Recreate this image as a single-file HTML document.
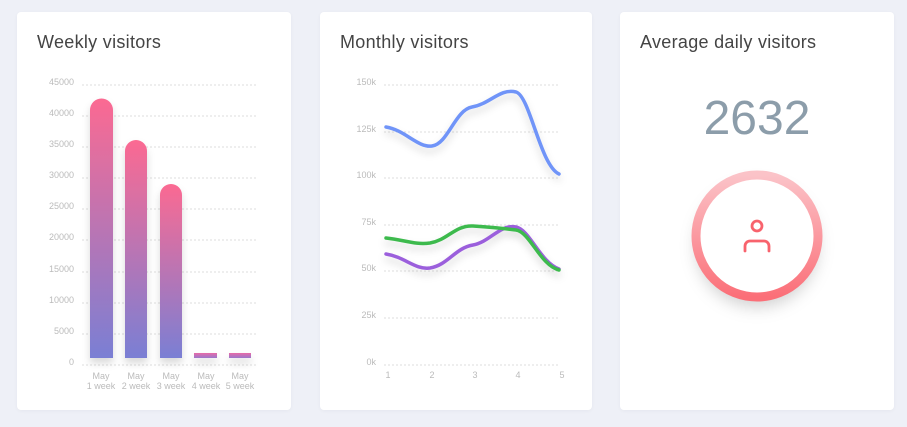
<!DOCTYPE html>
<html><head><meta charset="utf-8"><style>
body{margin:0;width:907px;height:427px;background:#eef0f7;font-family:"Liberation Sans",sans-serif;position:relative;overflow:hidden}
.card{position:absolute;top:12px;height:398px;background:#fff;border-radius:4px;box-shadow:0 1px 4px rgba(0,0,0,0.04)}
.t{position:absolute;top:20px;left:20px;font-size:18px;color:#444;letter-spacing:0.3px}
svg{position:absolute;left:0;top:0}
</style></head><body>
<div class="card" style="left:17px;width:274px"><div class="t">Weekly visitors</div></div>
<div class="card" style="left:320px;width:272px"><div class="t">Monthly visitors</div></div>
<div class="card" style="left:620px;width:274px"><div class="t">Average daily visitors</div></div>
<svg width="907" height="427" font-family="Liberation Sans, sans-serif">
<defs>
<linearGradient id="bg" x1="0" y1="0" x2="0" y2="1"><stop offset="0" stop-color="#fb6a92"/><stop offset="1" stop-color="#7a7fd4"/></linearGradient>
<linearGradient id="bg4" x1="0" y1="0" x2="0" y2="1"><stop offset="0" stop-color="#e86aa8"/><stop offset="1" stop-color="#9a78cc"/></linearGradient>
<linearGradient id="rg" x1="0" y1="0" x2="0" y2="1"><stop offset="0" stop-color="#fbc3c8"/><stop offset="1" stop-color="#fb6f78"/></linearGradient>
<filter id="sh" x="-30%" y="-30%" width="160%" height="160%"><feDropShadow dx="0" dy="5" stdDeviation="4" flood-color="#000" flood-opacity="0.15"/></filter>
<filter id="sh2" x="-50%" y="-50%" width="200%" height="200%"><feDropShadow dx="0" dy="10" stdDeviation="8" flood-color="#000" flood-opacity="0.18"/></filter>
</defs>
<g stroke="#ddd" stroke-dasharray="2,2" stroke-width="1">
<line x1="82" x2="257" y1="85" y2="85"/><line x1="82" x2="257" y1="116" y2="116"/><line x1="82" x2="257" y1="147" y2="147"/><line x1="82" x2="257" y1="178" y2="178"/><line x1="82" x2="257" y1="209" y2="209"/><line x1="82" x2="257" y1="240" y2="240"/><line x1="82" x2="257" y1="272" y2="272"/><line x1="82" x2="257" y1="303" y2="303"/><line x1="82" x2="257" y1="334" y2="334"/><line x1="82" x2="257" y1="365" y2="365"/>
<line x1="384" x2="559" y1="85" y2="85"/><line x1="384" x2="559" y1="132" y2="132"/><line x1="384" x2="559" y1="178" y2="178"/><line x1="384" x2="559" y1="225" y2="225"/><line x1="384" x2="559" y1="271" y2="271"/><line x1="384" x2="559" y1="318" y2="318"/><line x1="384" x2="559" y1="365" y2="365"/>
</g>
<g font-size="9" fill="#bbb" text-anchor="end">
<text x="74" y="85">45000</text><text x="74" y="116">40000</text><text x="74" y="147">35000</text><text x="74" y="178">30000</text><text x="74" y="209">25000</text><text x="74" y="240">20000</text><text x="74" y="272">15000</text><text x="74" y="303">10000</text><text x="74" y="334">5000</text><text x="74" y="365">0</text>
<text x="376" y="85">150k</text><text x="376" y="132">125k</text><text x="376" y="178">100k</text><text x="376" y="225">75k</text><text x="376" y="271">50k</text><text x="376" y="318">25k</text><text x="376" y="365">0k</text>
</g>
<g font-size="9" fill="#bbb" text-anchor="middle">
<text x="101" y="379">May</text><text x="101" y="389">1 week</text>
<text x="136" y="379">May</text><text x="136" y="389">2 week</text>
<text x="171" y="379">May</text><text x="171" y="389">3 week</text>
<text x="206" y="379">May</text><text x="206" y="389">4 week</text>
<text x="240" y="379">May</text><text x="240" y="389">5 week</text>
<text x="388" y="378">1</text><text x="432" y="378">2</text><text x="475" y="378">3</text><text x="518" y="378">4</text><text x="562" y="378">5</text>
</g>
<g filter="url(#sh)">
<path d="M90 358V110a11.5 11.5 0 0 1 23 0V358Z" fill="url(#bg)"/>
<path d="M125 358V151a11 11 0 0 1 22 0V358Z" fill="url(#bg)"/>
<path d="M160 358V195a11 11 0 0 1 22 0V358Z" fill="url(#bg)"/>
<rect x="194" y="353" width="23" height="5" fill="url(#bg4)"/>
<rect x="229" y="353" width="22" height="5" fill="url(#bg4)"/>
</g>
<g fill="none" stroke-width="3.5" stroke-linecap="round" filter="url(#sh)">
<path d="M386 127C405 130 418 148 432 146C448 144 455 110 472 107C490 104 500 88 516 92C530 96 540 165 559 174" stroke="#6f94f8"/>
<path d="M386 254C405 257 415 270 430 268C448 265 455 248 473 245C490 242 500 224 516 227C530 230 540 262 559 269" stroke="#9b5fdc"/>
<path d="M386 238C405 240 415 245 430 243C448 240 455 225 473 226C490 227 500 228 516 230C530 232 540 265 559 270" stroke="#3cba4e"/>
</g>
<text x="757" y="134" font-size="48" fill="#8c9daa" text-anchor="middle">2632</text>
<circle cx="757" cy="236" r="61" fill="#fff" filter="url(#sh2)"/>
<circle cx="757" cy="236" r="61" fill="none" stroke="url(#rg)" stroke-width="9"/>
<circle cx="757" cy="226" r="5" fill="none" stroke="#f8636d" stroke-width="2.8"/>
<path d="M745 251v-5a5 5 0 0 1 5-5h14a5 5 0 0 1 5 5v5" fill="none" stroke="#f8636d" stroke-width="2.8" stroke-linecap="round"/>
</svg>
</body></html>
